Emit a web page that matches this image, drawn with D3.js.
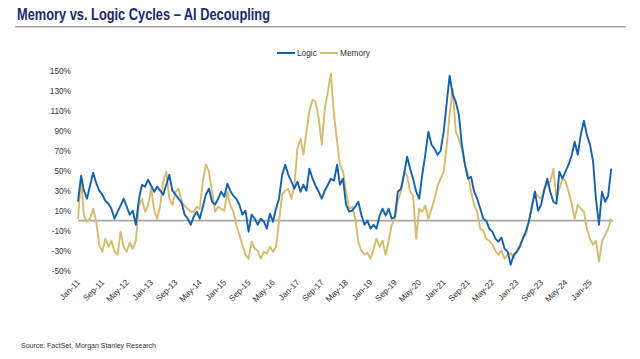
<!DOCTYPE html>
<html><head><meta charset="utf-8">
<script src="https://cdn.jsdelivr.net/npm/d3@7"></script>
<style>
html,body{margin:0;padding:0;background:#fff;}
text{font-family:"Liberation Sans Narrow","Arial Narrow","Liberation Sans",Arial,sans-serif;}
</style></head>
<body>
<svg id="chart" width="640" height="359"></svg>
<script>
const startYear = 2011, startMonth = 0;
const logic = [19,45,30,22,35,48,38,30,26,20,17,12,2,9,15,22,14,6,10,-4,22,36,34,41,35,29,34,30,26,36,46,30,26,22,18,6,2,-4,4,9,2,14,26,32,19,16,22,29,24,37,30,25,22,16,6,10,-11,6,2,-4,2,-1,-8,7,-1,12,22,46,56,46,39,32,39,29,36,30,52,42,35,29,22,30,36,42,40,56,36,42,16,9,10,14,19,6,-4,0,-8,-4,-8,5,12,5,12,2,4,29,32,46,64,52,42,29,22,46,66,89,76,72,66,70,89,119,145,126,119,106,76,56,42,44,29,22,12,2,0,-8,-11,-18,-21,-17,-28,-31,-44,-34,-31,-26,-18,-11,-1,14,29,10,16,30,42,29,19,17,49,42,49,56,65,79,66,86,100,86,76,59,22,-4,29,19,25,52];
const memory = [2,43,5,-1,2,12,0,-24,-31,-18,-26,-20,-31,-34,-11,-26,-31,-22,-28,-20,16,22,9,15,32,10,2,15,39,49,22,16,29,32,19,15,12,9,9,14,12,39,56,49,29,9,14,12,10,29,16,9,-4,-14,-24,-34,-38,-21,-28,-30,-38,-31,-33,-26,-31,-26,-1,26,30,32,22,35,72,82,66,89,110,121,119,102,76,112,129,147,106,79,56,49,29,12,14,2,-21,-30,-34,-32,-38,-28,-18,-26,-20,-34,-20,-4,2,20,29,49,45,29,25,-18,12,9,15,2,12,22,35,42,49,76,106,132,89,82,72,56,46,29,16,8,-8,-10,-18,-20,-24,-30,-34,-30,-38,-34,-32,-38,-30,-24,-18,-14,-1,16,29,24,22,32,36,39,52,22,32,42,40,29,18,2,16,12,9,-8,-18,-24,-20,-41,-21,-14,-8,2];
const yTicks = [150,130,110,90,70,50,30,10,-10,-30,-50];
const xTickLabels = ["Jan-11","Sep-11","May-12","Jan-13","Sep-13","May-14","Jan-15","Sep-15","May-16","Jan-17","Sep-17","May-18","Jan-19","Sep-19","May-20","Jan-21","Sep-21","May-22","Jan-23","Sep-23","May-24","Jan-25"];
const seriesNames = ["Logic","Memory"];
const colors = {Logic:"#1661ab", Memory:"#d5bb70"};

const svg = d3.select("#chart");
const dates = logic.map((d,i)=> new Date(startYear, startMonth + i, 1));
const x = d3.scaleTime().domain([new Date(2011,0,1), new Date(2025,0,1)]).range([78,590]);
const y = d3.scaleLinear().domain([-50,150]).range([270.7,70.7]);

// Title
svg.append("text").attr("x",17).attr("y",20).attr("font-size",16.5).attr("font-weight","bold")
  .attr("fill","#1b2a6b").style("font-family","'Liberation Sans',Arial,sans-serif")
  .attr("textLength",253).attr("lengthAdjust","spacingAndGlyphs")
  .text("Memory vs. Logic Cycles – AI Decoupling");
svg.append("line").attr("x1",15).attr("x2",626).attr("y1",26.7).attr("y2",26.7)
  .attr("stroke","#a6a6a6").attr("stroke-width",1.5);

// Y axis labels
const yAxis = d3.axisLeft(y).tickValues(yTicks).tickSize(0).tickPadding(0).tickFormat(d=>d+"%");
const gy = svg.append("g").attr("transform","translate(71,0)").call(yAxis);
gy.select(".domain").remove();
gy.selectAll("text").attr("font-size",8.3).attr("fill","#333").attr("dy","0.32em");

// X axis labels
const xTickDates = xTickLabels.map((s,i)=> new Date(2011, i*8, 1));
const xAxis = d3.axisBottom(x).tickValues(xTickDates).tickSize(0).tickFormat((d,i)=>xTickLabels[i]);
const gx = svg.append("g").attr("transform","translate(0,281)").call(xAxis);
gx.select(".domain").remove();
gx.selectAll("text").attr("font-size",8.3).attr("fill","#333")
  .attr("text-anchor","end").attr("dy","0.35em").attr("dx",0).attr("y",0)
  .attr("transform","rotate(-45)");

// Zero line
svg.append("line").attr("x1",78).attr("x2",613).attr("y1",y(0)).attr("y2",y(0))
  .attr("stroke","#a6a6a6").attr("stroke-width",1.8);

const line = d3.line().x((d,i)=>x(dates[i])).y(d=>y(d));
svg.append("path").datum(memory).attr("d",line).attr("fill","none")
  .attr("stroke",colors.Memory).attr("stroke-width",1.9).attr("stroke-linejoin","round");
svg.append("path").datum(logic).attr("d",line).attr("fill","none")
  .attr("stroke",colors.Logic).attr("stroke-width",1.9).attr("stroke-linejoin","round");

// Legend
const legX = [277, 320];
seriesNames.forEach((n,i)=>{
  const g = svg.append("g");
  g.append("line").attr("x1",legX[i]).attr("x2",legX[i]+18).attr("y1",53).attr("y2",53)
    .attr("stroke",colors[n]).attr("stroke-width",2);
  g.append("text").attr("x",legX[i]+20).attr("y",53).attr("dy","0.35em").attr("font-size",8.3)
    .attr("fill","#333").text(n);
});

// Source
svg.append("text").attr("x",21).attr("y",348).attr("font-size",7).attr("fill","#333")
  .text("Source: FactSet, Morgan Stanley Research");
</script>
</body></html>
